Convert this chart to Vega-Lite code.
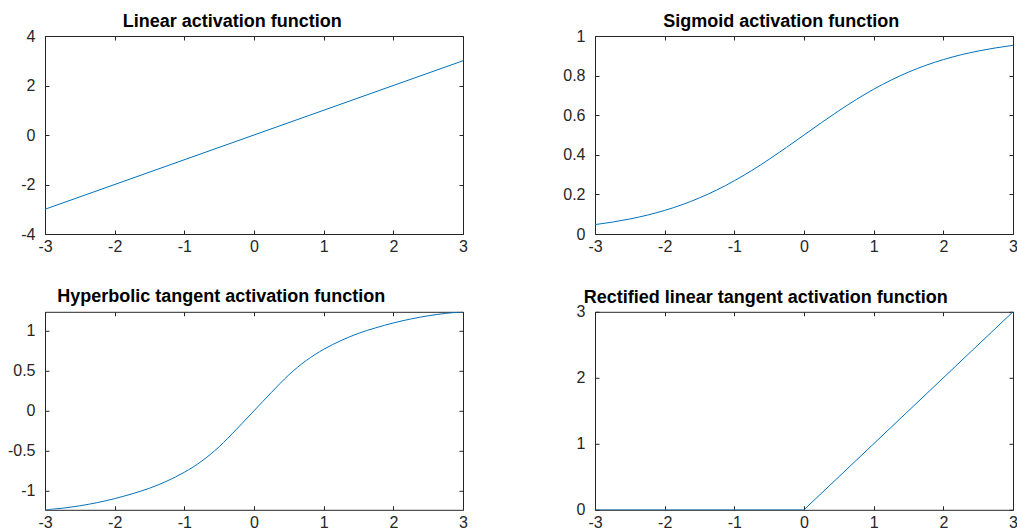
{
  "$schema": "https://vega.github.io/schema/vega-lite/v6.json",
  "padding": {"left": 7, "top": 12, "right": 0, "bottom": 0},
  "background": "white",
  "config": {
    "view": {"stroke": null},
    "axis": {
      "title": null,
      "grid": false,
      "tickSize": -4,
      "tickWidth": 1,
      "tickColor": "#262626",
      "domainColor": "#262626",
      "domainWidth": 1,
      "labelColor": "#262626",
      "labelFont": "Liberation Sans",
      "labelFontSize": 16,
      "labelFlush": false,
      "labelBound": false,
      "labelOverlap": false
    },
    "axisX": {"labelPadding": 8.3},
    "axisY": {"labelPadding": 14},
    "title": {
      "font": "Liberation Sans",
      "fontSize": 18,
      "fontWeight": "bold",
      "color": "#000000",
      "anchor": "start",
      "frame": "group",
      "baseline": "alphabetic"
    }
  },
  "datasets": {
    "linear": [{"x": -3, "y": -3}, {"x": 3, "y": 3}],
    "relu": [{"x": -3, "y": 0}, {"x": 0, "y": 0}, {"x": 3, "y": 3}],
    "sigmoid": [
      {"x": -3, "y": 0.0474}, {"x": -2.75, "y": 0.0601}, {"x": -2.5, "y": 0.0759}, {"x": -2.25, "y": 0.0953},
      {"x": -2, "y": 0.1192}, {"x": -1.75, "y": 0.148}, {"x": -1.5, "y": 0.1824}, {"x": -1.25, "y": 0.2227},
      {"x": -1, "y": 0.2689}, {"x": -0.75, "y": 0.3208}, {"x": -0.5, "y": 0.3775}, {"x": -0.25, "y": 0.4378},
      {"x": 0, "y": 0.5}, {"x": 0.25, "y": 0.5622}, {"x": 0.5, "y": 0.6225}, {"x": 0.75, "y": 0.6792},
      {"x": 1, "y": 0.7311}, {"x": 1.25, "y": 0.7773}, {"x": 1.5, "y": 0.8176}, {"x": 1.75, "y": 0.852},
      {"x": 2, "y": 0.8808}, {"x": 2.25, "y": 0.9047}, {"x": 2.5, "y": 0.9241}, {"x": 2.75, "y": 0.9399},
      {"x": 3, "y": 0.9526}
    ],
    "tanh": [
      {"x": -3, "y": -1.24}, {"x": -2.75, "y": -1.22}, {"x": -2.5, "y": -1.19}, {"x": -2.25, "y": -1.15},
      {"x": -2, "y": -1.1}, {"x": -1.75, "y": -1.04}, {"x": -1.5, "y": -0.97}, {"x": -1.25, "y": -0.88},
      {"x": -1, "y": -0.77}, {"x": -0.75, "y": -0.63}, {"x": -0.5, "y": -0.45}, {"x": -0.25, "y": -0.23},
      {"x": 0, "y": 0}, {"x": 0.25, "y": 0.23}, {"x": 0.5, "y": 0.45}, {"x": 0.75, "y": 0.63},
      {"x": 1, "y": 0.77}, {"x": 1.25, "y": 0.88}, {"x": 1.5, "y": 0.97}, {"x": 1.75, "y": 1.04},
      {"x": 2, "y": 1.1}, {"x": 2.25, "y": 1.15}, {"x": 2.5, "y": 1.19}, {"x": 2.75, "y": 1.22},
      {"x": 3, "y": 1.24}
    ]
  },
  "columns": 2,
  "spacing": {"row": 77.8, "column": 132},
  "bounds": "flush",
  "concat": [
    {
      "width": 418, "height": 198,
      "title": {"text": "Linear activation function", "dx": 77.7, "offset": -2.7},
      "data": {"name": "linear"},
      "layer": [
        {
          "mark": {"type": "line", "color": "#0072BD", "strokeWidth": 1, "clip": true},
          "encoding": {
            "x": {"field": "x", "type": "quantitative", "scale": {"domain": [-3, 3], "nice": false, "zero": false}, "axis": {"orient": "bottom", "values": [-3, -2, -1, 0, 1, 2, 3], "labelExpr": "'' + datum.value"}},
            "y": {"field": "y", "type": "quantitative", "scale": {"domain": [-4, 4], "nice": false, "zero": false}, "axis": {"orient": "left", "values": [-4, -2, 0, 2, 4], "labelExpr": "'' + datum.value"}}
          }
        },
        {
          "mark": {"type": "line", "opacity": 0},
          "encoding": {
            "x": {"field": "x", "type": "quantitative", "axis": {"orient": "top", "values": [-3, -2, -1, 0, 1, 2, 3], "labels": false}},
            "y": {"field": "y", "type": "quantitative", "axis": {"orient": "right", "values": [-4, -2, 0, 2, 4], "labels": false}}
          }
        }
      ],
      "resolve": {"axis": {"x": "independent", "y": "independent"}}
    },
    {
      "width": 418, "height": 198,
      "title": {"text": "Sigmoid activation function", "dx": 68.3, "offset": -2.7},
      "data": {"name": "sigmoid"},
      "layer": [
        {
          "mark": {"type": "line", "color": "#0072BD", "strokeWidth": 1, "clip": true, "interpolate": "monotone"},
          "encoding": {
            "x": {"field": "x", "type": "quantitative", "scale": {"domain": [-3, 3], "nice": false, "zero": false}, "axis": {"orient": "bottom", "values": [-3, -2, -1, 0, 1, 2, 3], "labelExpr": "'' + datum.value"}},
            "y": {"field": "y", "type": "quantitative", "scale": {"domain": [0, 1], "nice": false, "zero": false}, "axis": {"orient": "left", "values": [0, 0.2, 0.4, 0.6, 0.8, 1], "labelExpr": "'' + datum.value"}}
          }
        },
        {
          "mark": {"type": "line", "opacity": 0},
          "encoding": {
            "x": {"field": "x", "type": "quantitative", "axis": {"orient": "top", "values": [-3, -2, -1, 0, 1, 2, 3], "labels": false}},
            "y": {"field": "y", "type": "quantitative", "axis": {"orient": "right", "values": [0, 0.2, 0.4, 0.6, 0.8, 1], "labels": false}}
          }
        }
      ],
      "resolve": {"axis": {"x": "independent", "y": "independent"}}
    },
    {
      "width": 418, "height": 198,
      "title": {"text": "Hyperbolic tangent activation function", "dx": 12.3, "offset": 5.5},
      "data": {"name": "tanh"},
      "layer": [
        {
          "mark": {"type": "line", "color": "#0072BD", "strokeWidth": 1, "clip": true, "interpolate": "monotone"},
          "encoding": {
            "x": {"field": "x", "type": "quantitative", "scale": {"domain": [-3, 3], "nice": false, "zero": false}, "axis": {"orient": "bottom", "values": [-3, -2, -1, 0, 1, 2, 3], "labelExpr": "'' + datum.value"}},
            "y": {"field": "y", "type": "quantitative", "scale": {"domain": [-1.24, 1.24], "nice": false, "zero": false}, "axis": {"orient": "left", "values": [-1, -0.5, 0, 0.5, 1], "labelExpr": "'' + datum.value"}}
          }
        },
        {
          "mark": {"type": "line", "opacity": 0},
          "encoding": {
            "x": {"field": "x", "type": "quantitative", "axis": {"orient": "top", "values": [-3, -2, -1, 0, 1, 2, 3], "labels": false}},
            "y": {"field": "y", "type": "quantitative", "axis": {"orient": "right", "values": [-1, -0.5, 0, 0.5, 1], "labels": false}}
          }
        }
      ],
      "resolve": {"axis": {"x": "independent", "y": "independent"}}
    },
    {
      "width": 418, "height": 198,
      "title": {"text": "Rectified linear tangent activation function", "dx": -11.3, "offset": -2.7},
      "data": {"name": "relu"},
      "layer": [
        {
          "mark": {"type": "line", "color": "#0072BD", "strokeWidth": 1, "clip": true},
          "encoding": {
            "x": {"field": "x", "type": "quantitative", "scale": {"domain": [-3, 3], "nice": false, "zero": false}, "axis": {"orient": "bottom", "values": [-3, -2, -1, 0, 1, 2, 3], "labelExpr": "'' + datum.value"}},
            "y": {"field": "y", "type": "quantitative", "scale": {"domain": [0, 3], "nice": false, "zero": false}, "axis": {"orient": "left", "values": [0, 1, 2, 3], "labelExpr": "'' + datum.value"}}
          }
        },
        {
          "mark": {"type": "line", "opacity": 0},
          "encoding": {
            "x": {"field": "x", "type": "quantitative", "axis": {"orient": "top", "values": [-3, -2, -1, 0, 1, 2, 3], "labels": false}},
            "y": {"field": "y", "type": "quantitative", "axis": {"orient": "right", "values": [0, 1, 2, 3], "labels": false}}
          }
        }
      ],
      "resolve": {"axis": {"x": "independent", "y": "independent"}}
    }
  ]
}
